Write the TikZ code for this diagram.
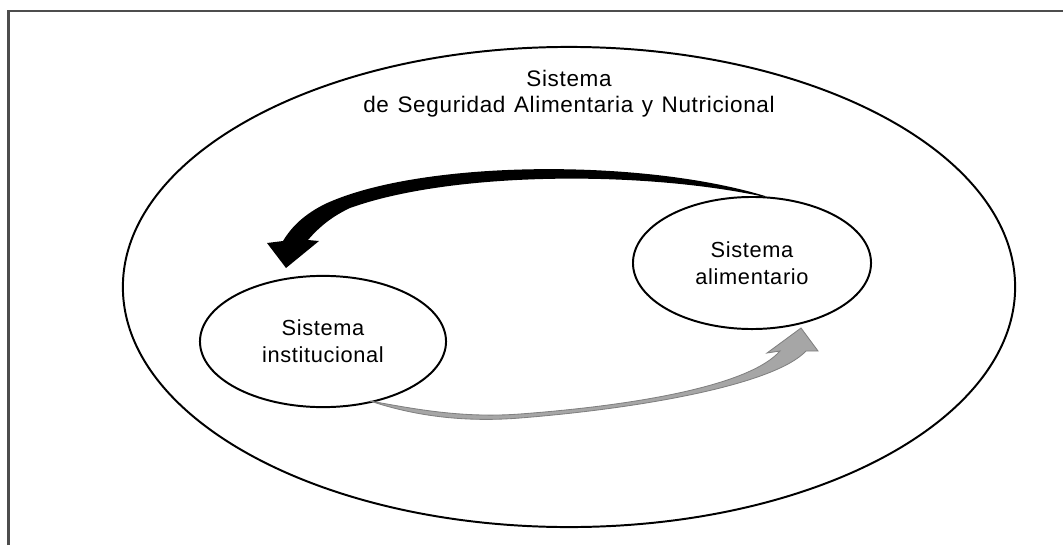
\documentclass[tikz,border=0pt]{standalone}
\usepackage{fontspec}
\setmainfont{Liberation Sans}[LetterSpace=3]
\usetikzlibrary{shapes.geometric}
\definecolor{framegray}{HTML}{4D4D4D}
\definecolor{arrowgray}{HTML}{A6A6A6}
\definecolor{arrowedge}{HTML}{808080}
\newcommand\widespace{\spaceskip=0.38em\relax}
\tikzset{
    sistema/.style={draw, ellipse, line width=1.4pt, inner sep=0pt, align=center,
        font=\fontsize{15.5}{19.2}\selectfont},
    rotulo/.style={inner sep=0pt, align=center,
        font=\fontsize{16}{18.5}\selectfont\widespace}
}
\begin{document}
\begin{tikzpicture}[x=0.025cm, y=-0.025cm]
        \useasboundingbox (0,0) rectangle (1063,545);
        % the frame, top and left side only
        \draw[framegray, line width=1.5pt] (8.5,545) -- (8.5,11) -- (1063,11);
        % the outer system and its label
        \node[sistema, minimum width=22.3cm, minimum height=12cm] (san) at (569,287) {};
        \node[rotulo] (san-label) at (569,94) {Sistema\\de Seguridad Alimentaria y Nutricional};
        % the two inner systems
        \node[sistema, minimum width=6.15cm, minimum height=3.28cm] (inst) at (323,341.5) {Sistema\\institucional};
        \node[sistema, minimum width=5.95cm, minimum height=3.3cm] (alim) at (752,263) {Sistema\\alimentario};

        % end points of the two arrows
        \coordinate (black-start) at (765,196);
        \coordinate (black-tip) at (286,268);
        \coordinate (gray-start) at (370,401);
        \coordinate (gray-tip) at (801,328);

        % black arrow from alimentario to institucional
        \fill[black] (black-start) .. controls (640,158) and (420,160) .. (325,204)
            .. controls (305,214) and (292,226) .. (283,241)
            -- (267,243) -- (black-tip) -- (319,241) -- (308,240)
            .. controls (320,226) and (333,216) .. (350,208)
            .. controls (450,172) and (640,170) .. (765,197) -- cycle;
        % gray arrow from institucional to alimentario
        \filldraw[fill=arrowgray, draw=arrowedge, line width=0.6pt] (gray-start)
            .. controls (410,408) and (460,418.5) .. (520,414)
            .. controls (640,405) and (750,385) .. (780,351)
            -- (767,353) -- (gray-tip) -- (818,351) -- (806,351)
            .. controls (775,384) and (645,408) .. (520,418)
            .. controls (450,423.6) and (400,411) .. (gray-start) -- cycle;
    \end{tikzpicture}
\end{document}
